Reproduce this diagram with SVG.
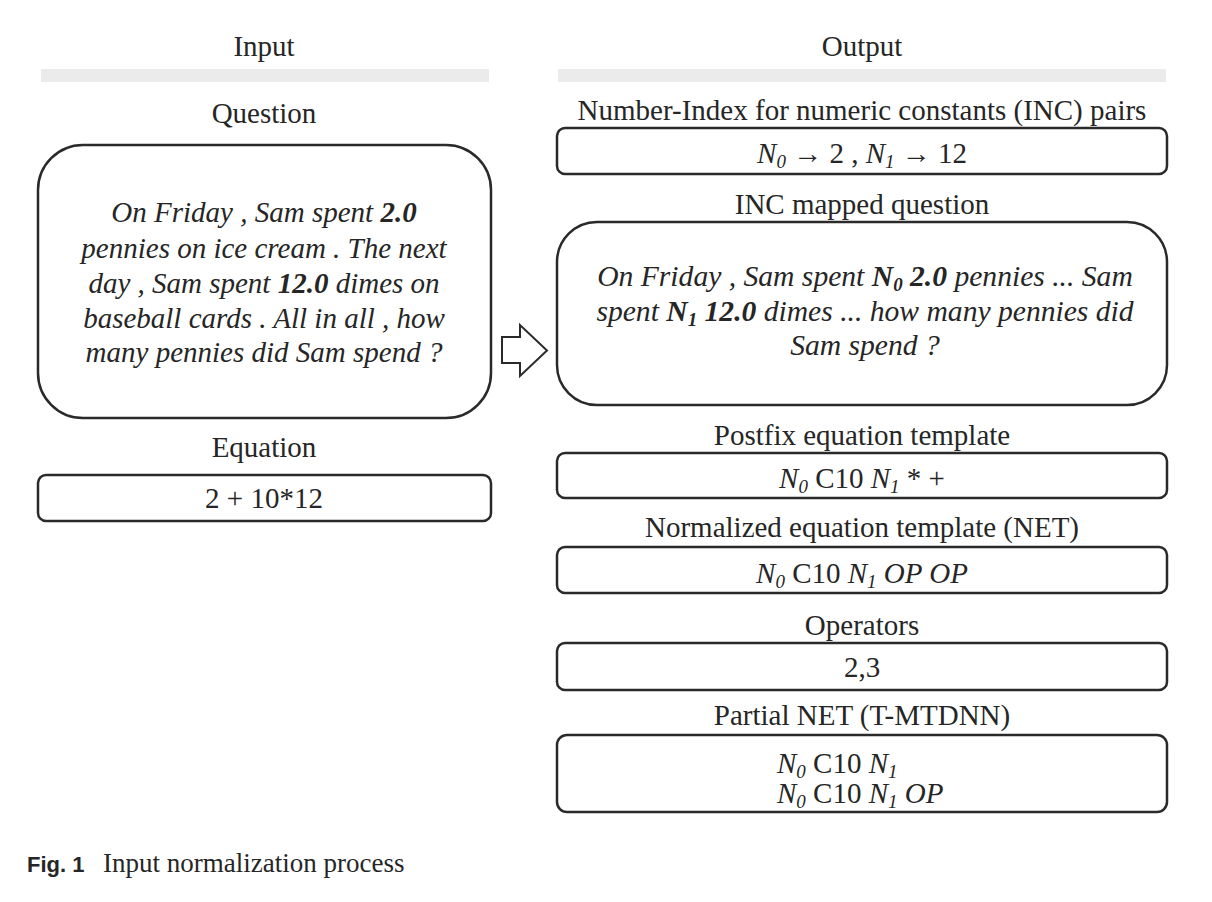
<svg xmlns="http://www.w3.org/2000/svg" width="1212" height="902" viewBox="0 0 1212 902">
<style>
  text { font-family: "Liberation Serif", "Times New Roman", serif; fill: #262626; }
  .lbl { font-size: 29px; text-anchor: middle; }
  .body { font-size: 29px; font-style: italic; text-anchor: middle; }
  .mq { font-size: 29.6px; }
  .box { fill: #fff; stroke: #2a2a2a; stroke-width: 2.5; }
  .bar { fill: #ebebeb; }
  .b { font-weight: bold; }
  .i { font-style: italic; }
  .sub { font-size: 19px; }
  .cap { font-size: 27px; }
  .fig { font-family: "Liberation Sans", Arial, sans-serif; font-weight: bold; font-size: 22px; }
</style>

<g id="headers">
  <text class="lbl" x="264" y="56">Input</text>
  <rect class="bar" x="41" y="69" width="448" height="13"/>
  <text class="lbl" x="862" y="56">Output</text>
  <rect class="bar" x="558" y="69" width="608" height="13"/>
</g>

<g id="question">
  <text class="lbl" x="264" y="123">Question</text>
  <rect class="box" x="38" y="145" width="453" height="273" rx="45"/>
  <text class="body" x="264" y="222">On Friday , Sam spent <tspan class="b">2.0</tspan></text>
  <text class="body" x="264" y="258">pennies on ice cream . The next</text>
  <text class="body" x="264" y="293">day , Sam spent <tspan class="b">12.0</tspan> dimes on</text>
  <text class="body" x="264" y="328">baseball cards . All in all , how</text>
  <text class="body" x="264" y="362">many pennies did Sam spend ?</text>
</g>

<g id="equation">
  <text class="lbl" x="264" y="457">Equation</text>
  <rect class="box" x="38" y="475" width="453" height="46" rx="8"/>
  <text class="lbl" x="264" y="508">2 + 10*12</text>
</g>

<g id="connectors">
  <polygon points="502,337 520,337 520,325 547,350.5 520,376 520,363 502,363" fill="#fff" stroke="#2a2a2a" stroke-width="2"/>
</g>

<g id="inc-pairs">
  <text class="lbl" x="862" y="120">Number-Index for numeric constants (INC) pairs</text>
  <rect class="box" x="557" y="128" width="610" height="46" rx="8"/>
  <text class="lbl" x="862" y="163"><tspan class="i">N</tspan><tspan class="i sub" dy="5">0</tspan><tspan dy="-5"> → 2 , </tspan><tspan class="i">N</tspan><tspan class="i sub" dy="5">1</tspan><tspan dy="-5"> → 12</tspan></text>
</g>

<g id="inc-mapped-question">
  <text class="lbl" x="862" y="214">INC mapped question</text>
  <rect class="box" x="557" y="222" width="610" height="183" rx="40"/>
  <text class="body mq" x="865" y="286">On Friday , Sam spent <tspan class="b">N</tspan><tspan class="b sub" dy="5">0</tspan><tspan class="b" dy="-5"> 2.0</tspan> pennies ... Sam</text>
  <text class="body mq" x="865" y="321">spent <tspan class="b">N</tspan><tspan class="b sub" dy="5">1</tspan><tspan class="b" dy="-5"> 12.0</tspan> dimes ... how many pennies did</text>
  <text class="body mq" x="865" y="355">Sam spend ?</text>
</g>

<g id="postfix">
  <text class="lbl" x="862" y="445">Postfix equation template</text>
  <rect class="box" x="557" y="453" width="610" height="45" rx="8"/>
  <text class="lbl" x="862" y="488"><tspan class="i">N</tspan><tspan class="i sub" dy="5">0</tspan><tspan dy="-5"> C10 </tspan><tspan class="i">N</tspan><tspan class="i sub" dy="5">1</tspan><tspan dy="-5"> * +</tspan></text>
</g>

<g id="net">
  <text class="lbl" x="862" y="537">Normalized equation template (NET)</text>
  <rect class="box" x="557" y="547" width="610" height="46" rx="8"/>
  <text class="lbl" x="862" y="583"><tspan class="i">N</tspan><tspan class="i sub" dy="5">0</tspan><tspan dy="-5"> C10 </tspan><tspan class="i">N</tspan><tspan class="i sub" dy="5">1</tspan><tspan class="i" dy="-5"> OP OP</tspan></text>
</g>

<g id="operators">
  <text class="lbl" x="862" y="635">Operators</text>
  <rect class="box" x="557" y="643" width="610" height="47" rx="8"/>
  <text class="lbl" x="862" y="677">2,3</text>
</g>

<g id="partial-net">
  <text class="lbl" x="862" y="725">Partial NET  (T-MTDNN)</text>
  <rect class="box" x="557" y="735" width="610" height="77" rx="10"/>
  <text x="777" y="773" font-size="29"><tspan class="i">N</tspan><tspan class="i sub" dy="5">0</tspan><tspan dy="-5"> C10 </tspan><tspan class="i">N</tspan><tspan class="i sub" dy="5">1</tspan></text>
  <text x="777" y="803" font-size="29"><tspan class="i">N</tspan><tspan class="i sub" dy="5">0</tspan><tspan dy="-5"> C10 </tspan><tspan class="i">N</tspan><tspan class="i sub" dy="5">1</tspan><tspan class="i" dy="-5"> OP</tspan></text>
</g>

<g id="caption">
  <text class="fig" x="27" y="872">Fig. 1</text>
  <text class="cap" x="103" y="872">Input normalization process</text>
</g>
</svg>
